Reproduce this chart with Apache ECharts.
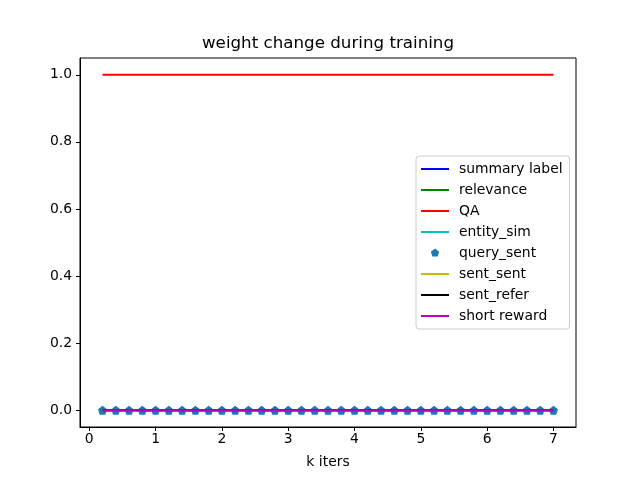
<!DOCTYPE html>
<html>
<head>
<meta charset="utf-8">
<script src="https://cdn.jsdelivr.net/npm/echarts@6/dist/echarts.min.js"></script>
<style>
  html, body { margin: 0; padding: 0; background: #fff; }
  #chart { width: 640px; height: 480px; }
</style>
</head>
<body>
<div id="chart"></div>
<script>
// k iters
var iters = [0.2, 0.4, 0.6, 0.8, 1.0, 1.2, 1.4, 1.6, 1.8, 2.0, 2.2, 2.4, 2.6, 2.8, 3.0,
             3.2, 3.4, 3.6, 3.8, 4.0, 4.2, 4.4, 4.6, 4.8, 5.0, 5.2, 5.4, 5.6, 5.8, 6.0,
             6.2, 6.4, 6.6, 6.8, 7.0];
var summaryLabel = [0,0,0,0,0,0,0,0,0,0,0,0,0,0,0,0,0,0,0,0,0,0,0,0,0,0,0,0,0,0,0,0,0,0,0];
var relevance    = [0,0,0,0,0,0,0,0,0,0,0,0,0,0,0,0,0,0,0,0,0,0,0,0,0,0,0,0,0,0,0,0,0,0,0];
var qa           = [1,1,1,1,1,1,1,1,1,1,1,1,1,1,1,1,1,1,1,1,1,1,1,1,1,1,1,1,1,1,1,1,1,1,1];
var entitySim    = [0,0,0,0,0,0,0,0,0,0,0,0,0,0,0,0,0,0,0,0,0,0,0,0,0,0,0,0,0,0,0,0,0,0,0];
var querySent    = [0,0,0,0,0,0,0,0,0,0,0,0,0,0,0,0,0,0,0,0,0,0,0,0,0,0,0,0,0,0,0,0,0,0,0];
var sentSent     = [0,0,0,0,0,0,0,0,0,0,0,0,0,0,0,0,0,0,0,0,0,0,0,0,0,0,0,0,0,0,0,0,0,0,0];
var sentRefer    = [0,0,0,0,0,0,0,0,0,0,0,0,0,0,0,0,0,0,0,0,0,0,0,0,0,0,0,0,0,0,0,0,0,0,0];
var shortReward  = [0,0,0,0,0,0,0,0,0,0,0,0,0,0,0,0,0,0,0,0,0,0,0,0,0,0,0,0,0,0,0,0,0,0,0];

var xTicks = [0, 1, 2, 3, 4, 5, 6, 7];
var yTicks = [0, 0.2, 0.4, 0.6, 0.8, 1.0];

var FONT = 'DejaVu Sans';
var pentagon = 'path://M50,0 L97.55,34.55 L79.39,90.45 L20.61,90.45 L2.45,34.55 Z';
// small pentagon inside a 28x14 box, so the legend doesn't stretch it
var pentagonIcon = 'path://M0,0 L0.01,0 L0,0.01 Z M28,14 L27.99,14 L28,13.99 Z ' +
  'M14,2.6 L18.2,5.7 L16.6,10.6 L11.4,10.6 L9.8,5.7 Z';
var lineIcon = 'path://M0,0 L28,0 L28,2 L0,2 Z';

function zip(ys) {
  return iters.map(function (x, i) { return [x, ys[i]]; });
}

var lines = [
  { name: 'summary label', data: summaryLabel, color: '#0000ff' },
  { name: 'relevance', data: relevance, color: '#008000' },
  { name: 'QA', data: qa, color: '#ff0000' },
  { name: 'entity_sim', data: entitySim, color: '#00bfbf' },
  { name: 'query_sent', data: querySent, color: '#1f77b4', marker: true },
  { name: 'sent_sent', data: sentSent, color: '#bfbf00' },
  { name: 'sent_refer', data: sentRefer, color: '#000000' },
  { name: 'short reward', data: shortReward, color: '#bf00bf' }
];

var series = lines.map(function (s, i) {
  if (s.marker) {
    return {
      name: s.name, type: 'scatter', data: zip(s.data),
      symbol: pentagon, symbolSize: 9, z: 2 + i,
      itemStyle: { color: s.color, opacity: 1 }
    };
  }
  return {
    name: s.name, type: 'line', data: zip(s.data), showSymbol: false,
    symbol: 'none', z: 2 + i,
    lineStyle: { color: s.color, width: 2 },
    itemStyle: { color: s.color }
  };
});

var chart = echarts.init(document.getElementById('chart'), null, { renderer: 'canvas' });
chart.setOption({
  animation: false,
  backgroundColor: '#fff',
  grid: { left: 80, right: 64, top: 58, bottom: 53, show: true, borderColor: '#000', borderWidth: 1 },
  graphic: [{
    type: 'text', x: 328, y: 44,
    style: { text: 'weight change during training', font: '16.7px "DejaVu Sans"', fill: '#000',
             textAlign: 'center', textVerticalAlign: 'middle' }
  }],
  legend: {
    orient: 'vertical', left: 416, top: 156,
    itemWidth: 28, itemHeight: 14, itemGap: 7,
    padding: [6, 7, 6, 5],
    backgroundColor: 'rgba(255,255,255,0.8)', borderColor: '#cccccc', borderWidth: 1, borderRadius: 3,
    textStyle: { fontFamily: FONT, fontSize: 13.9, color: '#000', padding: [0, 0, 0, 5] },
    data: lines.map(function (s) {
      return { name: s.name, icon: s.marker ? pentagonIcon : lineIcon,
               itemStyle: { color: s.color, opacity: 1 } };
    })
  },
  xAxis: {
    type: 'value', min: -0.14, max: 7.34,
    name: 'k iters', nameLocation: 'middle', nameGap: 28,
    nameTextStyle: { fontFamily: FONT, fontSize: 13.9, color: '#000' },
    axisLine: { show: true, onZero: false, lineStyle: { color: '#000', width: 1 } },
    splitLine: { show: false },
    axisTick: { show: true, length: 4, lineStyle: { color: '#000' }, customValues: xTicks },
    axisLabel: { color: '#000', fontFamily: FONT, fontSize: 13.9, margin: 5, customValues: xTicks,
                 formatter: function (v) { return String(v); } }
  },
  yAxis: {
    type: 'value', min: -0.05, max: 1.05,
    axisLine: { show: true, onZero: false, lineStyle: { color: '#000', width: 1 } },
    splitLine: { show: false },
    axisTick: { show: true, length: 4, lineStyle: { color: '#000' }, customValues: yTicks },
    axisLabel: { color: '#000', fontFamily: FONT, fontSize: 13.9, margin: 8, customValues: yTicks,
                 formatter: function (v) { return v.toFixed(1); } }
  },
  series: series
});
</script>
</body>
</html>
